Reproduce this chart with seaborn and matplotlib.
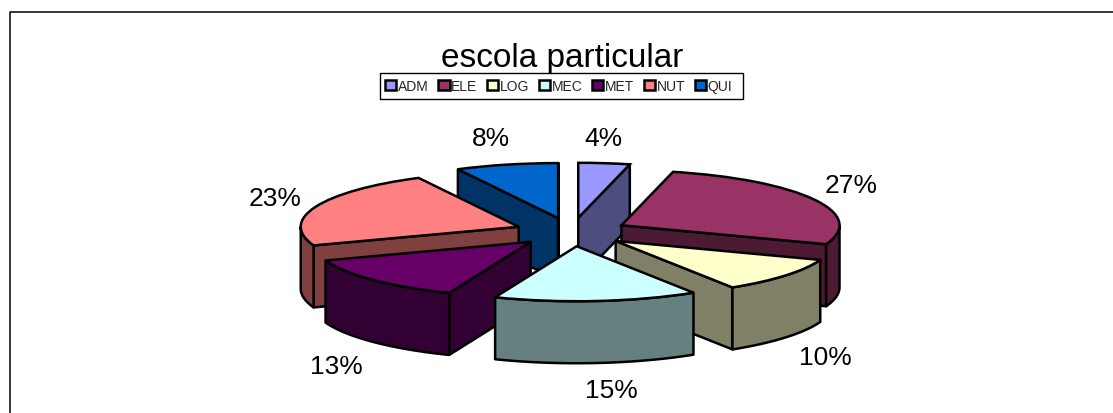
import numpy as np
import seaborn as sns
import matplotlib.pyplot as plt
from matplotlib.colors import to_rgb
from matplotlib.lines import Line2D
from matplotlib.patches import Rectangle

# values (percent)
courses = ['ADM', 'ELE', 'LOG', 'MEC', 'MET', 'NUT', 'QUI']
shares = [3.8, 26.8, 10.4, 15.1, 13.4, 22.9, 7.6]
colors = ['#9999FF', '#993366', '#FFFFCC', '#CCFFFF', '#660066', '#FF8080', '#0066CC']
title = 'escola particular'

# small pixel nudges for the percent labels
label_dx = [-6, -5, 3, 11, -3, 4, -4]
label_dy = [5, 0, 3, -1, 5, 2, 3]

sns.set_theme(style='white')
plt.rcParams['font.family'] = ['Liberation Sans', 'DejaVu Sans']

W, H = 1113, 414
fig = plt.figure(figsize=(W / 100, H / 100), dpi=100)
ax = fig.add_axes([0, 0, 1, 1])

# pixel layout of the squashed pie
cx, cy = 571.5, 233
rx, ry = 218, 55
depth = 62 / ry
lw = 1.8

wedges, _ = ax.pie(shares, explode=[0.26] * len(shares), startangle=90, counterclock=False,
                   colors=colors, radius=1, wedgeprops=dict(edgecolor='black', linewidth=lw))
ax.set_aspect('auto')
ax.set_xlim(-cx / rx, (W - cx) / rx)
ax.set_ylim((cy - H) / ry, cy / ry)
ax.set_axis_off()


def rim(w, phi):
    return w.center[0] + np.cos(phi), w.center[1] + np.sin(phi)


def wall(xs, ys, color, z):
    xs = np.asarray(xs)
    ys = np.asarray(ys)
    ax.fill(np.r_[xs, xs[::-1]], np.r_[ys, ys[::-1] - depth], facecolor=color,
            edgecolor='black', linewidth=lw, zorder=z, joinstyle='round')


# back slices first
mids = [np.radians((w.theta1 + w.theta2) / 2) for w in wedges]
order = np.argsort([-np.sin(m) for m in mids])
for rank, i in enumerate(order):
    w = wedges[i]
    shade = tuple(c * 0.5 for c in to_rgb(colors[i]))
    p1, p2 = np.radians(w.theta1), np.radians(w.theta2)
    z = 2 * rank + 1
    # cut faces that look towards the viewer
    if np.cos(p1) > 0:
        x, y = rim(w, p1)
        wall([w.center[0], x], [w.center[1], y], shade, z)
    if np.cos(p2) < 0:
        x, y = rim(w, p2)
        wall([w.center[0], x], [w.center[1], y], shade, z)
    # outer face, only the front half of the rim
    phis = np.linspace(p1, p2, 300)
    phis = phis[np.sin(phis) <= 0]
    if len(phis) > 1:
        x, y = rim(w, phis)
        wall(x, y, shade, z)
    w.set_zorder(z + 0.5)

    # percent label outside of the slice
    m = mids[i]
    lx = w.center[0] + 1.22 * np.cos(m) + label_dx[i] / rx
    ly = w.center[1] + 1.55 * np.sin(m) - (60 / ry if np.sin(m) < 0 else 0) - label_dy[i] / ry
    ax.text(lx, ly, f'{shares[i]:.0f}%', fontsize=19, color='black', ha='center', va='center',
            zorder=50)

fig.text(562 / W, 1 - 59 / H, title, fontsize=24, color='black', ha='center', va='center')

# legend box drawn by hand so its size follows the picture
fig.add_artist(Rectangle((380 / W, 1 - 99.5 / H), 363.5 / W, 25.5 / H, transform=fig.transFigure,
                         facecolor='white', edgecolor='black', linewidth=1, zorder=59))
leg = fig.legend(wedges, courses, ncol=len(courses), loc='center left',
                 bbox_to_anchor=(380 / W, 1 - 87 / H), fontsize=10, frameon=False,
                 handlelength=0.8, handleheight=0.8, handletextpad=0.1, columnspacing=0.72,
                 borderpad=0.37, borderaxespad=0)
leg.set_zorder(60)
for h in leg.legend_handles:
    h.set_linewidth(1.8)

# chart area border: only top and left are in the picture
fig.add_artist(Line2D([9.5 / W, 9.5 / W, 1], [0, 1 - 12.5 / H, 1 - 12.5 / H],
                      transform=fig.transFigure, color='black', linewidth=1.1))

fig.savefig('out.png', dpi=100)
